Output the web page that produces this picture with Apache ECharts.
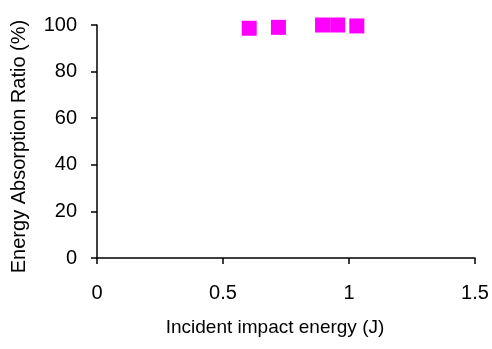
<!DOCTYPE html>
<html><head><meta charset="utf-8">
<script src="https://cdn.jsdelivr.net/npm/echarts@6/dist/echarts.min.js"></script>
<style>html,body{margin:0;padding:0;background:#fff}#c{width:492px;height:349px}</style>
</head><body><div id="c"></div>
<script>
const energy = [0.604, 0.72, 0.895, 0.955, 1.031];
const absorption = [98.6, 99.0, 100.0, 100.0, 99.6];
const xTicks = [0, 0.5, 1, 1.5];
const yTicks = [0, 20, 40, 60, 80, 100];

const chart = echarts.init(document.getElementById('c'));
const font = 'Liberation Sans, Arial, sans-serif';
chart.setOption({
  animation: false,
  grid: {left: 97, right: 17, top: 25, bottom: 91},
  xAxis: {
    type: 'value', min: 0, max: 1.5, interval: 0.5,
    name: 'Incident impact energy (J)', nameLocation: 'middle', nameGap: 60,
    nameTextStyle: {fontFamily: font, fontSize: 19, color: '#000', padding: [0, 22, 0, 0]},
    axisLine: {onZero: false, lineStyle: {color: '#000', width: 1.5}},
    axisTick: {show: true, length: 6, lineStyle: {color: '#000', width: 1.5}},
    axisLabel: {fontFamily: font, fontSize: 20, color: '#000', margin: 25,
      formatter: v => String(v)},
    splitLine: {show: false}
  },
  yAxis: {
    type: 'value', min: 0, max: 100, interval: 20,
    name: 'Energy Absorption Ratio (%)', nameLocation: 'middle', nameGap: 68,
    nameTextStyle: {fontFamily: font, fontSize: 20, color: '#000', padding: [0, 10, 0, 0]},
    axisLine: {show: true, lineStyle: {color: '#000', width: 1.5}},
    axisTick: {show: true, length: 6, lineStyle: {color: '#000', width: 1.5}},
    axisLabel: {fontFamily: font, fontSize: 20, color: '#000', margin: 20},
    splitLine: {show: false}
  },
  series: [{
    type: 'scatter', symbol: 'rect', symbolSize: 15,
    itemStyle: {color: '#ff00ff', opacity: 1},
    data: energy.map((x, i) => [x, absorption[i]])
  }]
});
</script></body></html>
